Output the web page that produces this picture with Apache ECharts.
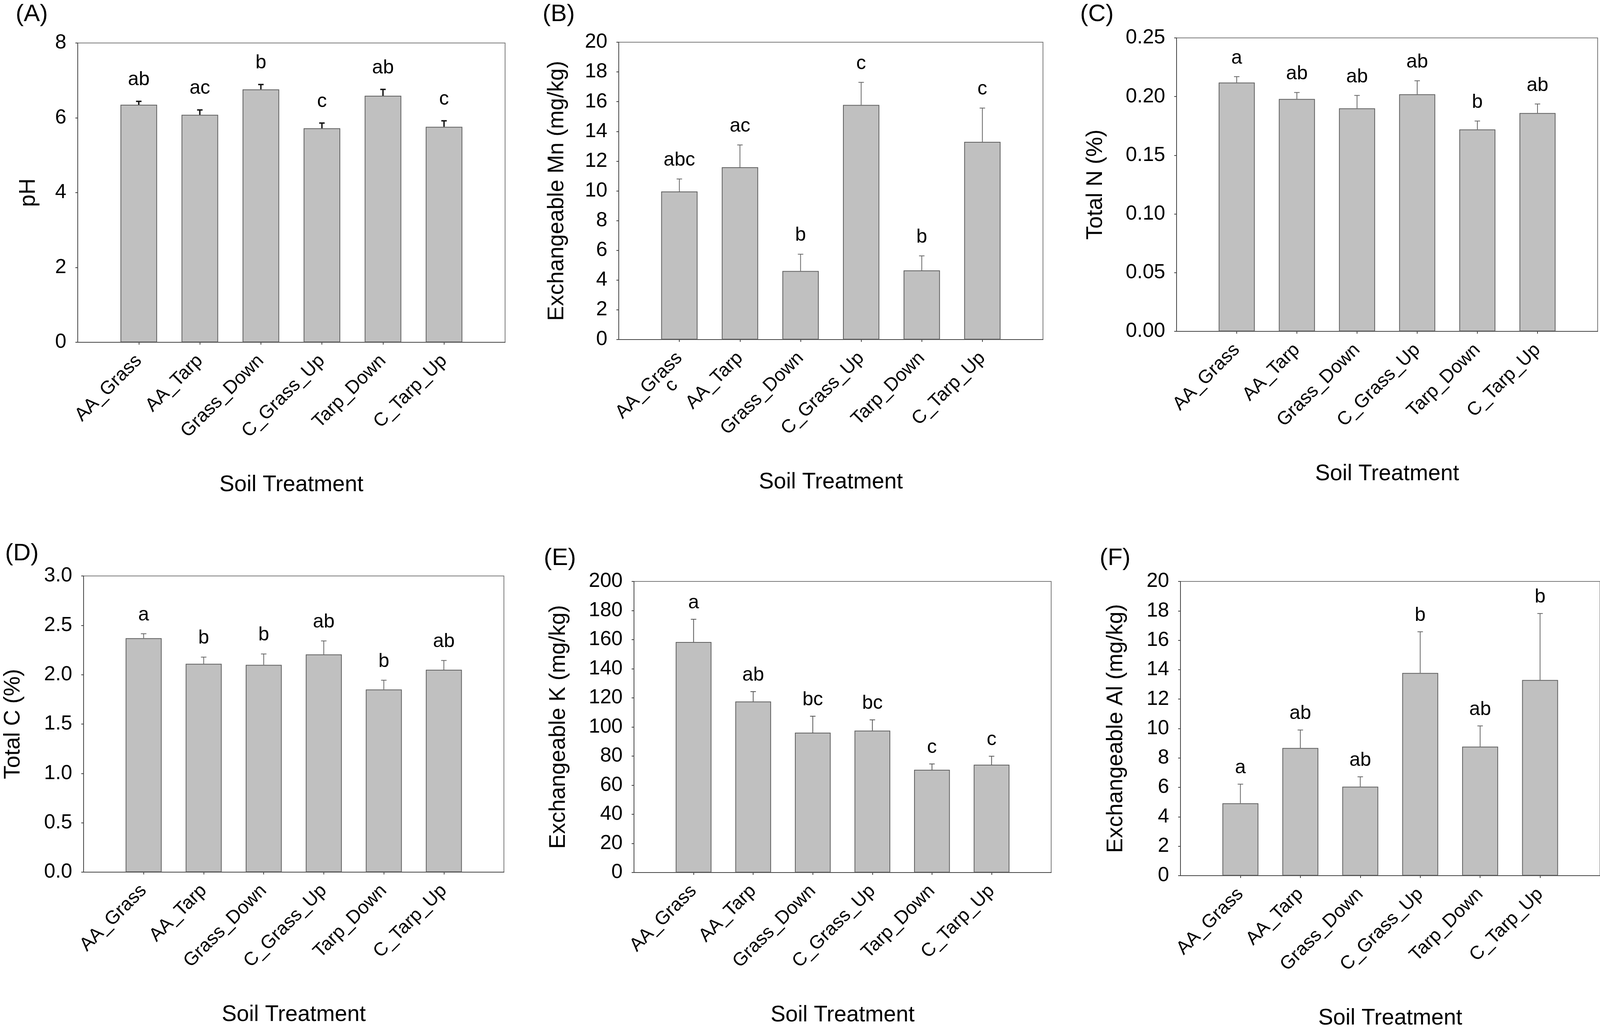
<!DOCTYPE html>
<html><head><meta charset="utf-8">
<script src="https://cdn.jsdelivr.net/npm/echarts@6/dist/echarts.min.js"></script>
<style>html,body{margin:0;padding:0;background:#fff}#c{width:4115px;height:2636px}</style>
</head><body><div id="c"></div>
<script>
// ---- data ----
const categories = ['AA_Grass', 'AA_Tarp', 'Grass_Down', 'C_Grass_Up', 'Tarp_Down', 'C_Tarp_Up'];
const xTitle = 'Soil Treatment';

const phMean = [6.35, 6.08, 6.76, 5.72, 6.59, 5.76];
const phErr = [0.09, 0.13, 0.13, 0.14, 0.17, 0.16];
const phLetters = ['ab', 'ac', 'b', 'c', 'ab', 'c'];

const mnMean = [9.96, 11.59, 4.61, 15.78, 4.65, 13.30];
const mnErr = [0.84, 1.50, 1.13, 1.52, 0.98, 2.27];
const mnLetters = ['abc', 'ac', 'b', 'c', 'b', 'c'];

const nMean = [0.212, 0.198, 0.190, 0.202, 0.172, 0.186];
const nErr = [0.005, 0.0055, 0.011, 0.0115, 0.0072, 0.0077];
const nLetters = ['a', 'ab', 'ab', 'ab', 'b', 'ab'];

const cMean = [2.37, 2.11, 2.10, 2.205, 1.85, 2.05];
const cErr = [0.045, 0.068, 0.11, 0.137, 0.094, 0.094];
const cLetters = ['a', 'b', 'b', 'ab', 'b', 'ab'];

const kMean = [158.4, 117.5, 96.1, 97.5, 70.6, 74.1];
const kErr = [15.6, 6.8, 11.3, 7.4, 4.0, 5.8];
const kLetters = ['a', 'ab', 'bc', 'bc', 'c', 'c'];

const alMean = [4.92, 8.68, 6.05, 13.78, 8.77, 13.30];
const alErr = [1.30, 1.22, 0.67, 2.80, 1.41, 4.52];
const alLetters = ['a', 'ab', 'ab', 'b', 'ab', 'b'];

const panelLabels = ['(A)', '(B)', '(C)', '(D)', '(E)', '(F)'];
const yTitles = ['pH', 'Exchangeable Mn (mg/kg)', 'Total N (%)', 'Total C (%)', 'Exchangeable K (mg/kg)', 'Exchangeable Al (mg/kg)'];
const yMin = [0, 0, 0, 0, 0, 0];
const yMax = [8, 20, 0.25, 3, 200, 20];
const yStep = [2, 2, 0.05, 0.5, 20, 2];
const yDecimals = [0, 0, 2, 1, 0, 0];
const strayLabel = 'c'; // extra wrapped text under AA_Grass in panel B

// ---- layout / style ----
const FONT = '"Liberation Sans", Arial, Helvetica, sans-serif';
const means = [phMean, mnMean, nMean, cMean, kMean, alMean];
const errs = [phErr, mnErr, nErr, cErr, kErr, alErr];
const letters = [phLetters, mnLetters, nLetters, cLetters, kLetters, alLetters];
const grids = [
  {left: 199, top: 110, width: 1094, height: 766},
  {left: 1584, top: 108, width: 1086, height: 761},
  {left: 3012, top: 97, width: 1078, height: 751},
  {left: 214, top: 1474, width: 1076, height: 758},
  {left: 1623, top: 1488, width: 1068, height: 745},
  {left: 3022, top: 1488, width: 1074, height: 753}
];
const yNameGap = [97, 129, 178, 151, 164, 136];
const labelPos = [[40, 6], [1389, 6], [2765, 6], [13, 1386], [1392, 1398], [2815, 1398]];
const errStyle = [
  {color: '#111', width: 3.5, gap: 38},
  {color: '#666', width: 2, gap: 31},
  {color: '#666', width: 2, gap: 30},
  {color: '#666', width: 2, gap: 31},
  {color: '#555', width: 2, gap: 25},
  {color: '#666', width: 2, gap: 25}
];

const option = {
  animation: false,
  backgroundColor: '#fff',
  textStyle: {fontFamily: FONT},
  title: panelLabels.map((t, i) => ({
    text: t, left: labelPos[i][0], top: labelPos[i][1], padding: 0,
    textStyle: {fontSize: 62, fontWeight: 'normal', color: '#000', fontFamily: FONT}
  })),
  grid: grids.map(g => Object.assign({show: true, borderColor: '#7a7a7a', borderWidth: 2, backgroundColor: 'transparent', containLabel: false}, g)),
  xAxis: grids.map((g, i) => ({
    gridIndex: i, type: 'category', data: [''].concat(categories, ['']), boundaryGap: false,
    axisLine: {show: true, lineStyle: {color: '#444', width: 2}},
    axisTick: {show: true, length: 6, interval: (idx) => idx > 0 && idx <= categories.length, lineStyle: {color: '#444', width: 2}},
    axisLabel: {interval: 0, rotate: 45, margin: 40, fontSize: 48, color: '#000', fontFamily: FONT},
    splitLine: {show: false},
    name: xTitle, nameLocation: 'middle', nameGap: 337,
    nameTextStyle: {fontSize: 57, color: '#000', fontFamily: FONT}
  })),
  yAxis: grids.map((g, i) => ({
    gridIndex: i, type: 'value', min: yMin[i], max: yMax[i], interval: yStep[i],
    axisLine: {show: true, lineStyle: {color: '#444', width: 2}},
    axisTick: {show: true, length: 6, lineStyle: {color: '#444', width: 2}},
    axisLabel: {margin: 29, fontSize: 52, color: '#000', fontFamily: FONT,
      formatter: v => Number(v).toFixed(yDecimals[i])},
    splitLine: {show: false},
    name: yTitles[i], nameLocation: 'middle', nameGap: yNameGap[i],
    nameTextStyle: {fontSize: 57, color: '#000', fontFamily: FONT}
  })),
  series: []
};

means.forEach((m, i) => {
  option.series.push({
    type: 'bar', xAxisIndex: i, yAxisIndex: i, silent: true,
    data: m.map((v, j) => [j + 1, v]),
    barWidth: '60%',
    itemStyle: {color: '#c0c0c0', borderColor: '#5f5f5f', borderWidth: 2}
  });
  const st = errStyle[i];
  const lt = letters[i];
  option.series.push({
    type: 'custom', xAxisIndex: i, yAxisIndex: i, z: 5, clip: false, silent: true,
    data: m.map((v, j) => [j + 1, v, v + errs[i][j]]),
    encode: {x: 0, y: [1, 2]},
    renderItem: (params, api) => {
      const x = api.value(0);
      const p0 = api.coord([x, api.value(1)]);
      const p1 = api.coord([x, api.value(2)]);
      const cw = 7;
      return {type: 'group', children: [
        {type: 'line', shape: {x1: p0[0], y1: p0[1], x2: p1[0], y2: p1[1]}, style: {stroke: st.color, lineWidth: st.width}},
        {type: 'line', shape: {x1: p1[0] - cw, y1: p1[1], x2: p1[0] + cw, y2: p1[1]}, style: {stroke: st.color, lineWidth: st.width}},
        {type: 'text', style: {text: lt[params.dataIndex], x: p1[0], y: p1[1] - st.gap - 17,
          align: 'center', verticalAlign: 'middle', font: '50px ' + FONT, fill: '#000'}}
      ]};
    }
  });
});

const chart = echarts.init(document.getElementById('c'), null, {renderer: 'canvas'});
chart.setOption(option);

// stray wrapped "c" under the first category label of panel B
const px = chart.convertToPixel({xAxisIndex: 1}, 1);
const py = chart.convertToPixel({yAxisIndex: 1}, 0);
chart.setOption({graphic: [{
  type: 'text', x: px - 20, y: py + 118, rotation: Math.PI / 4,
  style: {text: strayLabel, align: 'center', verticalAlign: 'middle', font: '48px ' + FONT, fill: '#000'}
}]});
</script>
</body></html>
